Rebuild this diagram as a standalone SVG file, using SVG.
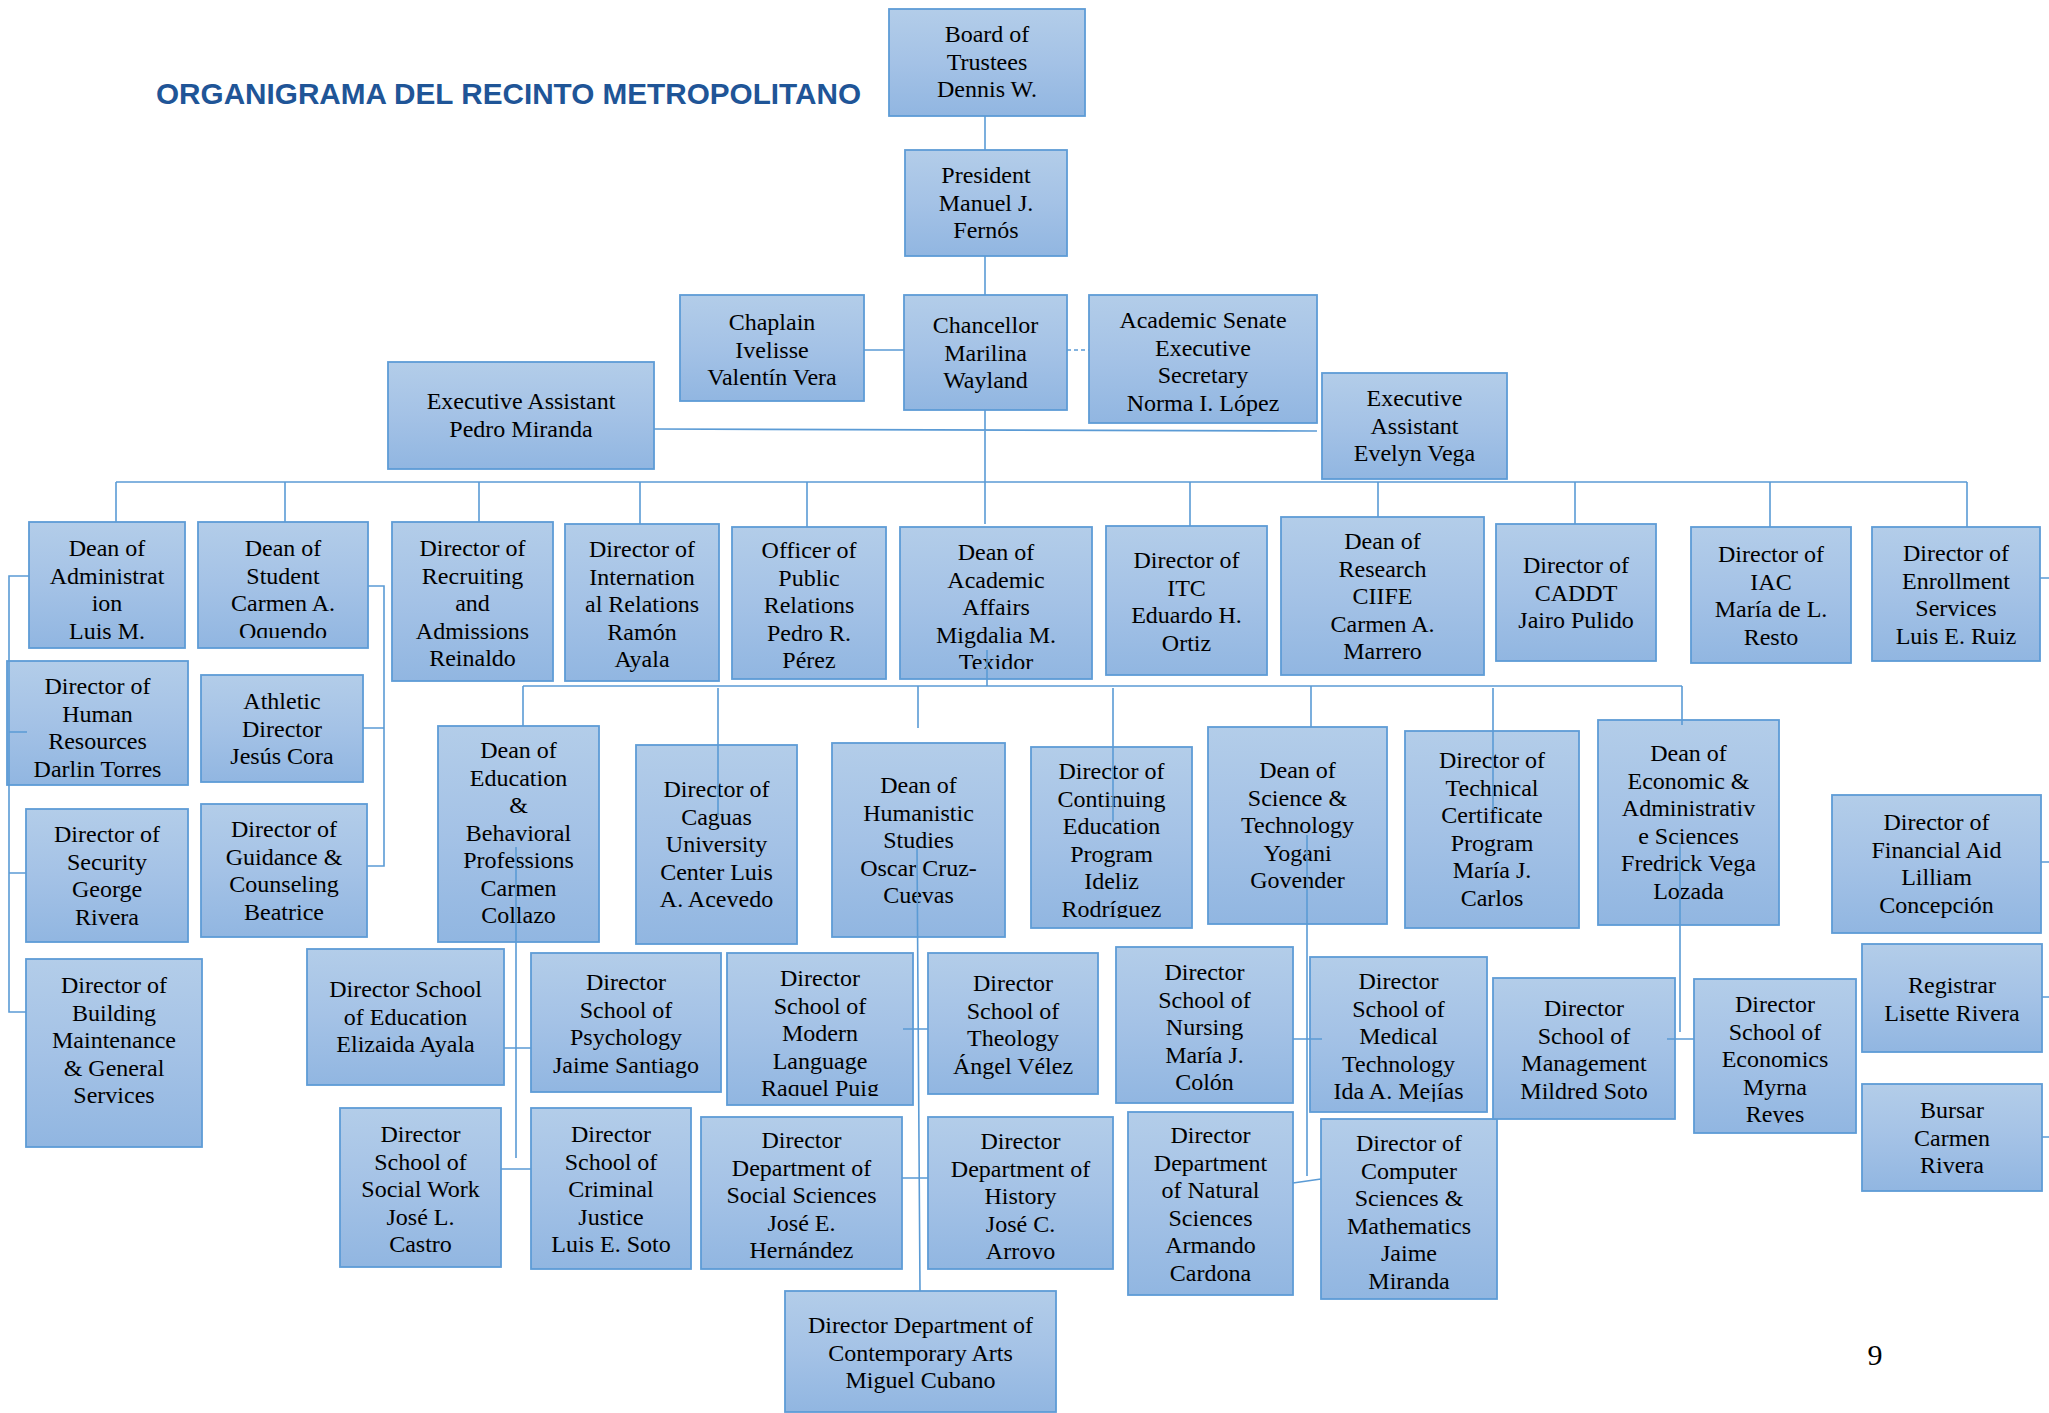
<svg xmlns="http://www.w3.org/2000/svg" width="2049" height="1413" viewBox="0 0 2049 1413">
<defs>
<linearGradient id="g" x1="0" y1="0" x2="0" y2="1">
<stop offset="0" stop-color="#b3cde9"/>
<stop offset="0.5" stop-color="#a4c2e6"/>
<stop offset="1" stop-color="#91b6e1"/>
</linearGradient>
<clipPath id="cp-student"><rect x="198" y="522" width="170" height="116"/></clipPath>
<clipPath id="cp-pr"><rect x="732" y="527" width="154" height="142"/></clipPath>
<clipPath id="cp-acad"><rect x="900" y="527" width="192" height="142"/></clipPath>
<clipPath id="cp-cont"><rect x="1031" y="747" width="161" height="171"/></clipPath>
<clipPath id="cp-modern"><rect x="727" y="953" width="186" height="143"/></clipPath>
<clipPath id="cp-socsci"><rect x="701" y="1117" width="201" height="142"/></clipPath>
<clipPath id="cp-hist"><rect x="928" y="1117" width="185" height="142"/></clipPath>
<clipPath id="cp-med"><rect x="1310" y="957" width="177" height="145"/></clipPath>
<clipPath id="cp-comp"><rect x="1321" y="1119" width="176" height="171"/></clipPath>
<clipPath id="cp-econ"><rect x="1694" y="979" width="162" height="144"/></clipPath>
</defs>
<style>
.box{fill:url(#g);stroke:#5e9cd6;stroke-width:1.8}
.t{font-family:"Liberation Serif","Times New Roman",serif;font-size:24px;text-anchor:middle;fill:#000}
.c{stroke:#5b9bd5;stroke-width:1.6;fill:none}
.d{stroke-dasharray:4 3}
.title{font-family:"Liberation Sans",Arial,sans-serif;font-weight:bold;font-size:30px;fill:#1f5597}
</style>
<rect x="0" y="0" width="2049" height="1413" fill="#fff"/>
<text class="title" x="156" y="104" textLength="705" lengthAdjust="spacingAndGlyphs">ORGANIGRAMA DEL RECINTO METROPOLITANO</text>

<g id="n-board"><rect class="box" x="889" y="9" width="196" height="107"/><text class="t" y="42"><tspan x="987">Board of</tspan><tspan x="987" dy="27.5">Trustees</tspan><tspan x="987" dy="27.5">Dennis W.</tspan></text></g>
<g id="n-president"><rect class="box" x="905" y="150" width="162" height="106"/><text class="t" y="183"><tspan x="986">President</tspan><tspan x="986" dy="27.5">Manuel J.</tspan><tspan x="986" dy="27.5">Fernós</tspan></text></g>
<g id="n-chaplain"><rect class="box" x="680" y="295" width="184" height="106"/><text class="t" y="330"><tspan x="772">Chaplain</tspan><tspan x="772" dy="27.5">Ivelisse</tspan><tspan x="772" dy="27.5">Valentín Vera</tspan></text></g>
<g id="n-chancellor"><rect class="box" x="904" y="295" width="163" height="115"/><text class="t" y="333"><tspan x="985.5">Chancellor</tspan><tspan x="985.5" dy="27.5">Marilina</tspan><tspan x="985.5" dy="27.5">Wayland</tspan></text></g>
<g id="n-senate"><rect class="box" x="1089" y="295" width="228" height="128"/><text class="t" y="328"><tspan x="1203">Academic Senate</tspan><tspan x="1203" dy="27.5">Executive</tspan><tspan x="1203" dy="27.5">Secretary</tspan><tspan x="1203" dy="27.5">Norma I. López</tspan></text></g>
<g id="n-exec-pedro"><rect class="box" x="388" y="362" width="266" height="107"/><text class="t" y="409"><tspan x="521">Executive Assistant</tspan><tspan x="521" dy="28">Pedro Miranda</tspan></text></g>
<g id="n-exec-evelyn"><rect class="box" x="1322" y="373" width="185" height="106"/><text class="t" y="406"><tspan x="1414.5">Executive</tspan><tspan x="1414.5" dy="27.5">Assistant</tspan><tspan x="1414.5" dy="27.5">Evelyn Vega</tspan></text></g>

<g id="n-dean-admin"><rect class="box" x="29" y="522" width="156" height="126"/><text class="t" y="556"><tspan x="107">Dean of</tspan><tspan x="107" dy="27.5">Administrat</tspan><tspan x="107" dy="27.5">ion</tspan><tspan x="107" dy="27.5">Luis M.</tspan></text></g>
<g id="n-dean-student"><rect class="box" x="198" y="522" width="170" height="126"/><text class="t" y="556" clip-path="url(#cp-student)"><tspan x="283">Dean of</tspan><tspan x="283" dy="27.5">Student</tspan><tspan x="283" dy="27.5">Carmen A.</tspan><tspan x="283" dy="27.5">Oquendo</tspan></text></g>
<g id="n-recruiting"><rect class="box" x="392" y="522" width="161" height="159"/><text class="t" y="556"><tspan x="472.5">Director of</tspan><tspan x="472.5" dy="27.5">Recruiting</tspan><tspan x="472.5" dy="27.5">and</tspan><tspan x="472.5" dy="27.5">Admissions</tspan><tspan x="472.5" dy="27.5">Reinaldo</tspan></text></g>
<g id="n-intl"><rect class="box" x="565" y="524" width="154" height="157"/><text class="t" y="557"><tspan x="642">Director of</tspan><tspan x="642" dy="27.5">Internation</tspan><tspan x="642" dy="27.5">al Relations</tspan><tspan x="642" dy="27.5">Ramón</tspan><tspan x="642" dy="27.5">Ayala</tspan></text></g>
<g id="n-pr"><rect class="box" x="732" y="527" width="154" height="152"/><text class="t" y="558" clip-path="url(#cp-pr)"><tspan x="809">Officer of</tspan><tspan x="809" dy="27.5">Public</tspan><tspan x="809" dy="27.5">Relations</tspan><tspan x="809" dy="27.5">Pedro R.</tspan><tspan x="809" dy="27.5">Pérez</tspan></text></g>
<g id="n-acad"><rect class="box" x="900" y="527" width="192" height="152"/><text class="t" y="560" clip-path="url(#cp-acad)"><tspan x="996">Dean of</tspan><tspan x="996" dy="27.5">Academic</tspan><tspan x="996" dy="27.5">Affairs</tspan><tspan x="996" dy="27.5">Migdalia M.</tspan><tspan x="996" dy="27.5">Texidor</tspan></text></g>
<g id="n-itc"><rect class="box" x="1106" y="526" width="161" height="149"/><text class="t" y="568"><tspan x="1186.5">Director of</tspan><tspan x="1186.5" dy="27.5">ITC</tspan><tspan x="1186.5" dy="27.5">Eduardo H.</tspan><tspan x="1186.5" dy="27.5">Ortiz</tspan></text></g>
<g id="n-research"><rect class="box" x="1281" y="517" width="203" height="158"/><text class="t" y="549"><tspan x="1382.5">Dean of</tspan><tspan x="1382.5" dy="27.5">Research</tspan><tspan x="1382.5" dy="27.5">CIIFE</tspan><tspan x="1382.5" dy="27.5">Carmen A.</tspan><tspan x="1382.5" dy="27.5">Marrero</tspan></text></g>
<g id="n-caddt"><rect class="box" x="1496" y="524" width="160" height="137"/><text class="t" y="573"><tspan x="1576">Director of</tspan><tspan x="1576" dy="27.5">CADDT</tspan><tspan x="1576" dy="27.5">Jairo Pulido</tspan></text></g>
<g id="n-iac"><rect class="box" x="1691" y="527" width="160" height="136"/><text class="t" y="562"><tspan x="1771">Director of</tspan><tspan x="1771" dy="27.5">IAC</tspan><tspan x="1771" dy="27.5">María de L.</tspan><tspan x="1771" dy="27.5">Resto</tspan></text></g>
<g id="n-enrollment"><rect class="box" x="1872" y="527" width="168" height="134"/><text class="t" y="561"><tspan x="1956">Director of</tspan><tspan x="1956" dy="27.5">Enrollment</tspan><tspan x="1956" dy="27.5">Services</tspan><tspan x="1956" dy="27.5">Luis E. Ruiz</tspan></text></g>

<g id="n-hr"><rect class="box" x="7" y="661" width="181" height="124"/><text class="t" y="694"><tspan x="97.5">Director of</tspan><tspan x="97.5" dy="27.5">Human</tspan><tspan x="97.5" dy="27.5">Resources</tspan><tspan x="97.5" dy="27.5">Darlin Torres</tspan></text></g>
<g id="n-security"><rect class="box" x="26" y="809" width="162" height="133"/><text class="t" y="842"><tspan x="107">Director of</tspan><tspan x="107" dy="27.5">Security</tspan><tspan x="107" dy="27.5">George</tspan><tspan x="107" dy="27.5">Rivera</tspan></text></g>
<g id="n-building"><rect class="box" x="26" y="959" width="176" height="188"/><text class="t" y="993"><tspan x="114">Director of</tspan><tspan x="114" dy="27.5">Building</tspan><tspan x="114" dy="27.5">Maintenance</tspan><tspan x="114" dy="27.5">&amp; General</tspan><tspan x="114" dy="27.5">Services</tspan></text></g>
<g id="n-athletic"><rect class="box" x="201" y="675" width="162" height="107"/><text class="t" y="709"><tspan x="282">Athletic</tspan><tspan x="282" dy="27.5">Director</tspan><tspan x="282" dy="27.5">Jesús Cora</tspan></text></g>
<g id="n-guidance"><rect class="box" x="201" y="804" width="166" height="133"/><text class="t" y="837"><tspan x="284">Director of</tspan><tspan x="284" dy="27.5">Guidance &amp;</tspan><tspan x="284" dy="27.5">Counseling</tspan><tspan x="284" dy="27.5">Beatrice</tspan></text></g>

<g id="n-education"><rect class="box" x="438" y="726" width="161" height="216"/><text class="t" y="758"><tspan x="518.5">Dean of</tspan><tspan x="518.5" dy="27.5">Education</tspan><tspan x="518.5" dy="27.5">&amp;</tspan><tspan x="518.5" dy="27.5">Behavioral</tspan><tspan x="518.5" dy="27.5">Professions</tspan><tspan x="518.5" dy="27.5">Carmen</tspan><tspan x="518.5" dy="27.5">Collazo</tspan></text></g>
<g id="n-caguas"><rect class="box" x="636" y="745" width="161" height="199"/><text class="t" y="797"><tspan x="716.5">Director of</tspan><tspan x="716.5" dy="27.5">Caguas</tspan><tspan x="716.5" dy="27.5">University</tspan><tspan x="716.5" dy="27.5">Center Luis</tspan><tspan x="716.5" dy="27.5">A. Acevedo</tspan></text></g>
<g id="n-humanistic"><rect class="box" x="832" y="743" width="173" height="194"/><text class="t" y="793"><tspan x="918.5">Dean of</tspan><tspan x="918.5" dy="27.5">Humanistic</tspan><tspan x="918.5" dy="27.5">Studies</tspan><tspan x="918.5" dy="27.5">Oscar Cruz-</tspan><tspan x="918.5" dy="27.5">Cuevas</tspan></text></g>
<g id="n-continuing"><rect class="box" x="1031" y="747" width="161" height="181"/><text class="t" y="779" clip-path="url(#cp-cont)"><tspan x="1111.5">Director of</tspan><tspan x="1111.5" dy="27.5">Continuing</tspan><tspan x="1111.5" dy="27.5">Education</tspan><tspan x="1111.5" dy="27.5">Program</tspan><tspan x="1111.5" dy="27.5">Ideliz</tspan><tspan x="1111.5" dy="27.5">Rodríguez</tspan></text></g>
<g id="n-science"><rect class="box" x="1208" y="727" width="179" height="197"/><text class="t" y="778"><tspan x="1297.5">Dean of</tspan><tspan x="1297.5" dy="27.5">Science &amp;</tspan><tspan x="1297.5" dy="27.5">Technology</tspan><tspan x="1297.5" dy="27.5">Yogani</tspan><tspan x="1297.5" dy="27.5">Govender</tspan></text></g>
<g id="n-technical"><rect class="box" x="1405" y="731" width="174" height="197"/><text class="t" y="768"><tspan x="1492">Director of</tspan><tspan x="1492" dy="27.5">Technical</tspan><tspan x="1492" dy="27.5">Certificate</tspan><tspan x="1492" dy="27.5">Program</tspan><tspan x="1492" dy="27.5">María J.</tspan><tspan x="1492" dy="27.5">Carlos</tspan></text></g>
<g id="n-economic"><rect class="box" x="1598" y="720" width="181" height="205"/><text class="t" y="761"><tspan x="1688.5">Dean of</tspan><tspan x="1688.5" dy="27.5">Economic &amp;</tspan><tspan x="1688.5" dy="27.5">Administrativ</tspan><tspan x="1688.5" dy="27.5">e Sciences</tspan><tspan x="1688.5" dy="27.5">Fredrick Vega</tspan><tspan x="1688.5" dy="27.5">Lozada</tspan></text></g>
<g id="n-financial"><rect class="box" x="1832" y="795" width="209" height="138"/><text class="t" y="830"><tspan x="1936.5">Director of</tspan><tspan x="1936.5" dy="27.5">Financial Aid</tspan><tspan x="1936.5" dy="27.5">Lilliam</tspan><tspan x="1936.5" dy="27.5">Concepción</tspan></text></g>

<g id="n-sch-education"><rect class="box" x="307" y="949" width="197" height="136"/><text class="t" y="997"><tspan x="405.5">Director School</tspan><tspan x="405.5" dy="27.5">of Education</tspan><tspan x="405.5" dy="27.5">Elizaida Ayala</tspan></text></g>
<g id="n-psychology"><rect class="box" x="531" y="953" width="190" height="139"/><text class="t" y="990"><tspan x="626">Director</tspan><tspan x="626" dy="27.5">School of</tspan><tspan x="626" dy="27.5">Psychology</tspan><tspan x="626" dy="27.5">Jaime Santiago</tspan></text></g>
<g id="n-social-work"><rect class="box" x="340" y="1108" width="161" height="159"/><text class="t" y="1142"><tspan x="420.5">Director</tspan><tspan x="420.5" dy="27.5">School of</tspan><tspan x="420.5" dy="27.5">Social Work</tspan><tspan x="420.5" dy="27.5">José L.</tspan><tspan x="420.5" dy="27.5">Castro</tspan></text></g>
<g id="n-criminal"><rect class="box" x="531" y="1108" width="160" height="161"/><text class="t" y="1142"><tspan x="611">Director</tspan><tspan x="611" dy="27.5">School of</tspan><tspan x="611" dy="27.5">Criminal</tspan><tspan x="611" dy="27.5">Justice</tspan><tspan x="611" dy="27.5">Luis E. Soto</tspan></text></g>
<g id="n-modern"><rect class="box" x="727" y="953" width="186" height="152"/><text class="t" y="986" clip-path="url(#cp-modern)"><tspan x="820">Director</tspan><tspan x="820" dy="27.5">School of</tspan><tspan x="820" dy="27.5">Modern</tspan><tspan x="820" dy="27.5">Language</tspan><tspan x="820" dy="27.5">Raquel Puig</tspan></text></g>
<g id="n-theology"><rect class="box" x="928" y="953" width="170" height="141"/><text class="t" y="991"><tspan x="1013">Director</tspan><tspan x="1013" dy="27.5">School of</tspan><tspan x="1013" dy="27.5">Theology</tspan><tspan x="1013" dy="27.5">Ángel Vélez</tspan></text></g>
<g id="n-social-sci"><rect class="box" x="701" y="1117" width="201" height="152"/><text class="t" y="1148" clip-path="url(#cp-socsci)"><tspan x="801.5">Director</tspan><tspan x="801.5" dy="27.5">Department of</tspan><tspan x="801.5" dy="27.5">Social Sciences</tspan><tspan x="801.5" dy="27.5">José E.</tspan><tspan x="801.5" dy="27.5">Hernández</tspan></text></g>
<g id="n-history"><rect class="box" x="928" y="1117" width="185" height="152"/><text class="t" y="1149" clip-path="url(#cp-hist)"><tspan x="1020.5">Director</tspan><tspan x="1020.5" dy="27.5">Department of</tspan><tspan x="1020.5" dy="27.5">History</tspan><tspan x="1020.5" dy="27.5">José C.</tspan><tspan x="1020.5" dy="27.5">Arroyo</tspan></text></g>
<g id="n-contemporary"><rect class="box" x="785" y="1291" width="271" height="121"/><text class="t" y="1333"><tspan x="920.5">Director Department of</tspan><tspan x="920.5" dy="27.5">Contemporary Arts</tspan><tspan x="920.5" dy="27.5">Miguel Cubano</tspan></text></g>
<g id="n-nursing"><rect class="box" x="1116" y="947" width="177" height="156"/><text class="t" y="980"><tspan x="1204.5">Director</tspan><tspan x="1204.5" dy="27.5">School of</tspan><tspan x="1204.5" dy="27.5">Nursing</tspan><tspan x="1204.5" dy="27.5">María J.</tspan><tspan x="1204.5" dy="27.5">Colón</tspan></text></g>
<g id="n-natural"><rect class="box" x="1128" y="1112" width="165" height="183"/><text class="t" y="1143"><tspan x="1210.5">Director</tspan><tspan x="1210.5" dy="27.5">Department</tspan><tspan x="1210.5" dy="27.5">of Natural</tspan><tspan x="1210.5" dy="27.5">Sciences</tspan><tspan x="1210.5" dy="27.5">Armando</tspan><tspan x="1210.5" dy="27.5">Cardona</tspan></text></g>
<g id="n-medical"><rect class="box" x="1310" y="957" width="177" height="155"/><text class="t" y="989" clip-path="url(#cp-med)"><tspan x="1398.5">Director</tspan><tspan x="1398.5" dy="27.5">School of</tspan><tspan x="1398.5" dy="27.5">Medical</tspan><tspan x="1398.5" dy="27.5">Technology</tspan><tspan x="1398.5" dy="27.5">Ida A. Mejías</tspan></text></g>
<g id="n-computer"><rect class="box" x="1321" y="1119" width="176" height="180"/><text class="t" y="1151" clip-path="url(#cp-comp)"><tspan x="1409">Director of</tspan><tspan x="1409" dy="27.5">Computer</tspan><tspan x="1409" dy="27.5">Sciences &amp;</tspan><tspan x="1409" dy="27.5">Mathematics</tspan><tspan x="1409" dy="27.5">Jaime</tspan><tspan x="1409" dy="27.5">Miranda</tspan></text></g>
<g id="n-management"><rect class="box" x="1493" y="978" width="182" height="141"/><text class="t" y="1016"><tspan x="1584">Director</tspan><tspan x="1584" dy="27.5">School of</tspan><tspan x="1584" dy="27.5">Management</tspan><tspan x="1584" dy="27.5">Mildred Soto</tspan></text></g>
<g id="n-economics"><rect class="box" x="1694" y="979" width="162" height="154"/><text class="t" y="1012" clip-path="url(#cp-econ)"><tspan x="1775">Director</tspan><tspan x="1775" dy="27.5">School of</tspan><tspan x="1775" dy="27.5">Economics</tspan><tspan x="1775" dy="27.5">Myrna</tspan><tspan x="1775" dy="27.5">Reyes</tspan></text></g>
<g id="n-registrar"><rect class="box" x="1862" y="944" width="180" height="108"/><text class="t" y="993"><tspan x="1952">Registrar</tspan><tspan x="1952" dy="27.5">Lisette Rivera</tspan></text></g>
<g id="n-bursar"><rect class="box" x="1862" y="1084" width="180" height="107"/><text class="t" y="1118"><tspan x="1952">Bursar</tspan><tspan x="1952" dy="27.5">Carmen</tspan><tspan x="1952" dy="27.5">Rivera</tspan></text></g>

<g id="connectors">
<path class="c" d="M985 116V150M985 256V295M864 350H904M654 429L1317 431M985 410V524"/>
<path class="c d" d="M1067 350H1089"/>
<path class="c" d="M116 482H1967M116 482V522M285 482V522M479 482V522M640 482V524M807 482V527M1190 482V526M1378 482V517M1575 482V524M1770 482V527M1967 482V527"/>
<path class="c" d="M29 576H9V1012H26M9 732H27M9 873H26"/>
<path class="c" d="M368 586H384V866H367M363 728H384"/>
<path class="c" d="M523 686H1682M523 686V726M718 688V817M918 686V728M987 650V686M1113 688V822M1311 686V727M1493 688V810M1682 686V725"/>
<path class="c" d="M516 847V1158M504 1048H531M501 1169H531"/>
<path class="c" d="M917 848L920 1291M903 1029H928M902 1178H928"/>
<path class="c" d="M1307 835V1176M1293 1039H1322M1293 1183L1321 1179"/>
<path class="c" d="M1680 843V1032M1667 1039H1694"/>
<path class="c" d="M2040 578H2049M2041 862H2049M2042 997H2049M2042 1137H2049"/>
</g>
<text x="1875" y="1365" style="font-family:'Liberation Serif','Times New Roman',serif;font-size:30px;text-anchor:middle;fill:#000">9</text>
</svg>
